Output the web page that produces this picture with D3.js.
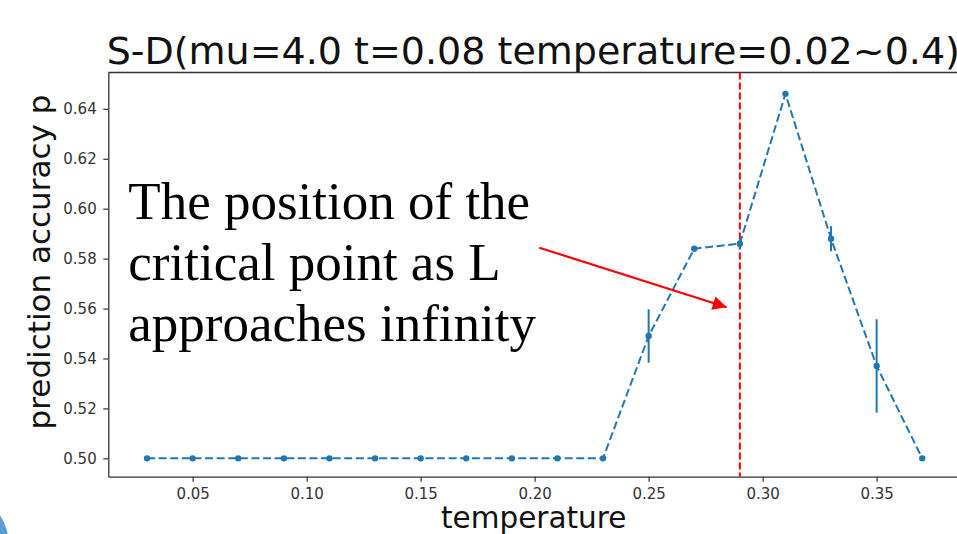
<!DOCTYPE html>
<html>
<head>
<meta charset="utf-8">
<script src="https://cdn.jsdelivr.net/npm/d3@7"></script>
<style>
  body { margin: 0; background: #fff; }
  svg { display: block; }
</style>
</head>
<body>
<div id="myChart"></div>
<script>
// values
var temps = [0.03, 0.05, 0.07, 0.09, 0.11, 0.13, 0.15, 0.17, 0.19, 0.21, 0.23, 0.25, 0.27, 0.29, 0.31, 0.33, 0.35, 0.37];
var accuracy = [0.5, 0.5, 0.5, 0.5, 0.5, 0.5, 0.5, 0.5, 0.5, 0.5, 0.5, 0.549, 0.584, 0.586, 0.646, 0.588, 0.537, 0.5];
var errors = [0, 0, 0, 0, 0, 0, 0, 0, 0, 0, 0, 0.0107, 0.001, 0.002, 0.001, 0.005, 0.0187, 0];
var xTicks = [0.05, 0.10, 0.15, 0.20, 0.25, 0.30, 0.35];
var yTicks = [0.50, 0.52, 0.54, 0.56, 0.58, 0.60, 0.62, 0.64];
var criticalT = 0.29;
var titleText = "S-D(mu=4.0 t=0.08 temperature=0.02~0.4)";
var noteLines = ["The position of the", "critical point as L", "approaches infinity"];

let svgWidth = 957;
let svgHeight = 534;
let svg = d3.select("#myChart").append("svg")
  .attr("width", svgWidth)
  .attr("height", svgHeight);

svg.append("rect").attr("width", svgWidth).attr("height", svgHeight).attr("fill", "#fff");

// plot box (right edge falls outside the window, as in the screenshot)
var plotLeft = 108.3, plotRight = 961, plotTop = 72.5, plotBottom = 476.7;
var blue = "#1f77b4";

var x = d3.scaleLinear().domain([0.013, 0.387]).range([plotLeft, plotRight]);
var y = d3.scaleLinear().domain([0.49264, 0.65456]).range([plotBottom, plotTop]);

// axes
var xAxis = svg.append("g")
  .attr("transform", "translate(0," + plotBottom + ")")
  .call(d3.axisBottom(x).tickValues(xTicks).tickFormat(d3.format(".2f"))
    .tickSize(5).tickSizeOuter(0).tickPadding(6.5));
var yAxis = svg.append("g")
  .attr("transform", "translate(" + plotLeft + ",0)")
  .call(d3.axisLeft(y).tickValues(yTicks).tickFormat(d3.format(".2f"))
    .tickSize(5).tickSizeOuter(0).tickPadding(6.6));

[xAxis, yAxis].forEach(function(g) {
  g.attr("font-family", "DejaVu Sans").attr("font-size", 15);
  g.selectAll("text").attr("fill", "#333");
  g.selectAll("line").attr("stroke", "#333").attr("stroke-width", 1.2);
  g.select(".domain").attr("stroke", "#333").attr("stroke-width", 1.3);
});

// top spine
svg.append("line")
  .attr("x1", plotLeft).attr("x2", plotRight)
  .attr("y1", plotTop).attr("y2", plotTop)
  .attr("stroke", "#333").attr("stroke-width", 1.3);

// critical point line
svg.append("line")
  .attr("x1", x(criticalT)).attr("x2", x(criticalT))
  .attr("y1", plotTop).attr("y2", plotBottom)
  .attr("stroke", "red").attr("stroke-width", 2)
  .attr("stroke-dasharray", "7,3");

// error bars
var pts = temps.map(function(t, i) { return { t: t, v: accuracy[i], e: errors[i] }; });
svg.append("g")
  .selectAll("line")
  .data(pts.filter(function(d) { return d.e > 0; }))
  .enter()
  .append("line")
  .attr("x1", function(d) { return x(d.t); })
  .attr("x2", function(d) { return x(d.t); })
  .attr("y1", function(d) { return y(d.v - d.e); })
  .attr("y2", function(d) { return y(d.v + d.e); })
  .attr("stroke", blue).attr("stroke-width", 2);

// dashed line + markers
var line = d3.line()
  .x(function(d) { return x(d.t); })
  .y(function(d) { return y(d.v); });
svg.append("path")
  .datum(pts)
  .attr("d", line)
  .attr("fill", "none")
  .attr("stroke", blue)
  .attr("stroke-width", 2)
  .attr("stroke-dasharray", "8,3.6");
svg.append("g")
  .selectAll("circle")
  .data(pts)
  .enter()
  .append("circle")
  .attr("cx", function(d) { return x(d.t); })
  .attr("cy", function(d) { return y(d.v); })
  .attr("r", 3.2)
  .attr("fill", blue);

// title and axis labels
svg.append("text")
  .attr("x", 106.7).attr("y", 64)
  .attr("font-family", "DejaVu Sans").attr("font-size", 38)
  .attr("fill", "#111")
  .text(titleText);
svg.append("text")
  .attr("x", 533.7).attr("y", 527.5)
  .attr("text-anchor", "middle")
  .attr("font-family", "DejaVu Sans").attr("font-size", 29.5)
  .attr("fill", "#111")
  .text("temperature");
svg.append("text")
  .attr("transform", "translate(50,262) rotate(-90)")
  .attr("text-anchor", "middle")
  .attr("font-family", "DejaVu Sans").attr("font-size", 31)
  .attr("fill", "#111")
  .text("prediction accuracy p");

// annotation
var note = svg.append("text")
  .attr("font-family", "Liberation Serif").attr("font-size", 53)
  .attr("fill", "#000");
note.selectAll("tspan")
  .data(noteLines)
  .enter()
  .append("tspan")
  .attr("x", 128.3)
  .attr("y", function(d, i) { return 219 + i * 61; })
  .text(function(d) { return d; });

// arrow
var defs = svg.append("defs");
defs.append("marker")
  .attr("id", "head")
  .attr("viewBox", "0 0 10 10")
  .attr("refX", 10).attr("refY", 5)
  .attr("markerWidth", 17).attr("markerHeight", 14)
  .attr("markerUnits", "userSpaceOnUse")
  .attr("orient", "auto")
  .append("path")
  .attr("d", "M0,0 L10,5 L0,10 Z")
  .attr("fill", "red");
svg.append("line")
  .attr("x1", 539.3).attr("y1", 247.7)
  .attr("x2", 726.7).attr("y2", 307.3)
  .attr("stroke", "red").attr("stroke-width", 2.2)
  .attr("marker-end", "url(#head)");

// slide decoration at bottom-left
svg.append("circle")
  .attr("cx", -40).attr("cy", 543).attr("r", 48.5)
  .attr("fill", "#5b9bd5");
</script>
</body>
</html>
